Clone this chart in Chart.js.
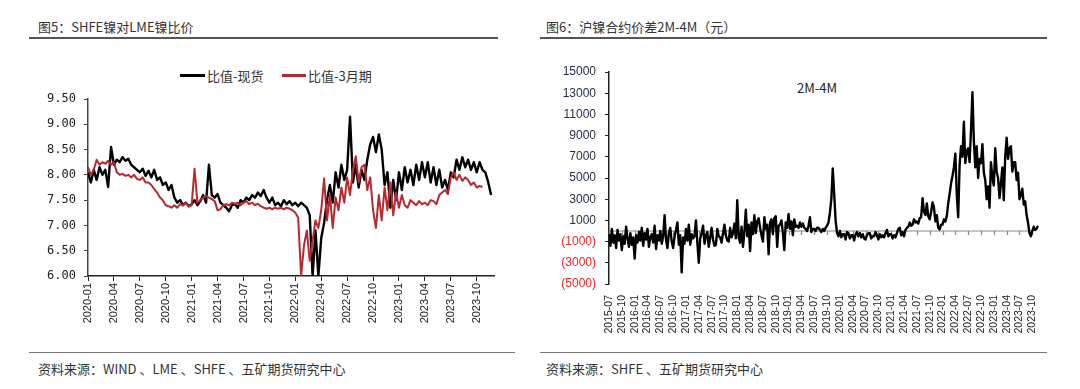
<!DOCTYPE html>
<html>
<head>
<meta charset="utf-8">
<script src="https://cdn.jsdelivr.net/npm/chart.js@4"></script>
<style>
  body { margin: 0; background: #fff; width: 1080px; height: 389px; position: relative; overflow: hidden;
         font-family: "Noto Sans CJK SC", "Liberation Sans", sans-serif; color: #333; }
  .t { position: absolute; font-size: 13px; white-space: nowrap; }
  .rule { position: absolute; height: 0; }
  .box { position: absolute; }
  .lg { position: absolute; height: 3px; }
</style>
</head>
<body>
<div class="t" style="left:38px;top:17px;">图5：SHFE镍对LME镍比价</div>
<div class="rule" style="left:29px;top:37px;width:469px;border-top:2px solid #555;"></div>
<div class="t" style="left:546px;top:17px;">图6：沪镍合约价差2M-4M（元）</div>
<div class="rule" style="left:540px;top:37px;width:507px;border-top:2px solid #555;"></div>

<div class="lg" style="left:180px;top:74px;width:25px;background:#000;"></div>
<div class="t" style="left:207px;top:66px;">比值-现货</div>
<div class="lg" style="left:282px;top:74px;width:24px;background:#b8282f;"></div>
<div class="t" style="left:308px;top:66px;">比值-3月期</div>
<div class="t" style="left:797px;top:78px;color:#222;">2M-4M</div>

<div class="box" style="left:29px;top:45px;"><canvas id="ratioChart" width="470" height="305"></canvas></div>
<div class="box" style="left:540px;top:45px;"><canvas id="spreadChart" width="508" height="305"></canvas></div>

<div class="rule" style="left:29px;top:352px;width:486px;border-top:1.5px solid #777;"></div>
<div class="t" style="left:38px;top:359px;">资料来源：WIND 、LME 、SHFE 、五矿期货研究中心</div>
<div class="rule" style="left:540px;top:352px;width:507px;border-top:1.5px solid #777;"></div>
<div class="t" style="left:546px;top:359px;">资料来源：SHFE 、五矿期货研究中心</div>

<script>
// x tick labels (quarterly)
const ratioTicks = ["2020-01","2020-04","2020-07","2020-10","2021-01","2021-04","2021-07","2021-10",
  "2022-01","2022-04","2022-07","2022-10","2023-01","2023-04","2023-07","2023-10"];
const spreadTicks = ["2015-07","2015-10","2016-01","2016-04","2016-07","2016-10","2017-01","2017-04",
  "2017-07","2017-10","2018-01","2018-04","2018-07","2018-10","2019-01","2019-04","2019-07","2019-10",
  "2020-01","2020-04","2020-07","2020-10","2021-01","2021-04","2021-07","2021-10","2022-01","2022-04",
  "2022-07","2022-10","2023-01","2023-04","2023-07","2023-10"];

// 比值-现货, 3 readings per month from 2020-01
const spotRatio = [
  8.05, 7.85, 8.10,  7.90, 8.15, 8.00,  8.10, 7.76, 8.55,  8.20, 8.30, 8.25,
  8.35, 8.28, 8.32,  8.20, 8.15, 8.10,  8.05, 8.12, 7.98,  8.08, 7.95, 8.10,
  7.90, 7.95, 7.80,  7.85, 7.70, 7.80,  7.55, 7.45, 7.50,  7.40, 7.45, 7.38,
  7.42, 7.50, 7.40,  7.48, 7.60, 7.45,  8.20, 7.60, 7.55,  7.62, 7.45, 7.40,
  7.35, 7.28, 7.40,  7.42, 7.35, 7.50,  7.45, 7.55, 7.50,  7.60, 7.55, 7.65,
  7.58, 7.70, 7.55,  7.45, 7.55, 7.40,  7.45, 7.38, 7.50,  7.42, 7.48, 7.40,
  7.45, 7.38, 7.45,  7.40, 7.35, 7.20,  6.00, 6.90, 6.00,  6.75, 7.05, 7.50,
  7.80, 7.45, 8.05,  7.75, 8.20, 7.90,  8.10, 9.15, 7.85,  8.20, 7.75, 8.10,
  7.90, 8.30, 8.60,  8.75, 8.45, 8.80,  8.50, 7.80, 8.05,  7.35, 7.90, 7.50,
  8.05, 7.70, 8.15,  7.85, 8.10, 7.80,  8.20, 7.90, 8.25,  7.95, 8.25, 7.85,
  8.15, 7.80, 8.10,  7.75, 7.90, 7.70,  8.05, 7.95, 8.30,  8.10, 8.35, 8.15,
  8.30, 8.10, 8.25,  8.05, 8.25, 8.10,  8.05, 7.85, 7.60
];
// 比值-3月期
const m3Ratio = [
  8.15, 8.00, 8.10,  8.30, 8.20, 8.25,  8.22, 8.28, 8.20,  8.25, 8.05, 8.00,
  8.02, 7.98, 8.00,  7.95, 8.00, 7.92,  7.90, 7.95, 7.85,  7.85, 7.80, 7.72,
  7.65, 7.55, 7.50,  7.40, 7.38, 7.35,  7.40, 7.35, 7.42,  7.40, 7.45, 7.38,
  7.40, 8.12, 7.45,  7.50, 7.55, 7.58,  7.55, 7.52, 7.48,  7.30, 7.32, 7.40,
  7.42, 7.40, 7.45,  7.43, 7.45, 7.40,  7.45, 7.48, 7.42,  7.45, 7.40, 7.43,
  7.38, 7.35, 7.33,  7.35, 7.32, 7.35,  7.33, 7.35, 7.32,  7.35, 7.33, 7.30,
  7.25, 7.15, 6.00,  6.60, 6.90, 6.30,  6.70, 7.10, 6.95,  7.30, 7.93, 7.10,
  7.60, 6.95, 7.55,  7.30, 7.75, 7.45,  7.95, 7.60, 8.10,  8.37, 7.85, 8.15,
  8.20, 7.70, 7.95,  7.30, 6.95, 7.60,  7.10, 7.75, 7.30,  7.85, 7.20, 7.65,
  7.35, 7.60, 7.40,  7.35, 7.50, 7.45,  7.40, 7.48, 7.42,  7.45, 7.40, 7.50,
  7.48, 7.42, 7.60,  7.65, 7.70, 7.62,  7.95, 8.05, 7.90,  8.00, 7.88, 7.95,
  7.90, 7.80, 7.85,  7.75, 7.78, 7.76
];
// 2M-4M spread, 3 readings per month from 2015-07
const spread = [
  -300, -1400, 200,  -1100, -400, -1600,  100, -900, -300,  -1800, -500, -1200,
  400, -700, -1500,  -200, -1300, -600,  -2600, -400, -1100,  -100, -900, 300,
  -1400, -200, -800,  200, -1500, -600,  -300, -1100, 500,  -1700, -400, -900,
  0, -1200, -500,  1500, -800, -1600,  -200, 300, -1000,  -1600, -500, 100,
  800, -1300, -400,  -3900, -600, -1200,  200, -900, 600,  -1300, -300, -700,
  -500, 1000, -1100,  -3000, -700, -200,  500, -1200, -400,  -100, -1500, -600,
  300, -800, -1400,  -1300, 200, -500,  -600, -1100, -200,  600, -400, -900,
  -1000, 300, -600,  -200, 700, -700,  2900, -600, -1100,  400, -1500, -100,
  2000, -500, 600,  -1900, 800, -300,  1500, -200, 900,  1200, 300, -400,
  -1000, 1300, 200,  600, -2200, 800,  1100, -300, 1200,  1400, -1500, 500,
  600, 1000, -200,  -1800, 800, 300,  1600, 200, 900,  -400, 1100, 400,
  500, 300, 800,  400, 700, 300,  200, 0, 500,  1300, -100, 200,
  200, 0, 300,  300, 100, -100,  200, 0, 300,  500, 800, 1700,
  3000, 5900, 3500,  1000, -200, -500,  0, -600, -300,  -300, -800, -100,
  -200, -700, -400,  -400, -900, -300,  -100, -500, -200,  -600, -300, -700,
  -800, -400, -200,  -200, -700, -500,  -500, -100, -400,  -800, -300, -600,
  -400, -600, -200,  100, -500, -300,  -300, -700, -400,  -600, -200, 200,
  300, -400, -100,  -500, 100, 300,  400, 800, 500,  600, 1100, 800,
  900, 700, 1200,  1300, 3100, 1800,  1500, 2600, 1400,  1100, 1800, 2700,
  2200, 900, 1500,  300, 150, 600,  600, 1100, 900,  1400, 2600, 3500,
  4500, 5200, 6000,  7300, 3500, 1300,  6200, 8000, 7000,  10300, 6400, 7500,
  7800, 6500, 9500,  13100, 8500, 6000,  8000, 5000, 6800,  6400, 8200, 5500,
  4800, 3000, 4200,  2200, 6500, 5000,  4300, 7800, 5600,  5000, 3100, 4500,
  6000, 2900, 7000,  8800, 6800, 7800,  8000, 5600, 6500,  6500, 4800, 5500,
  3000, 3400, 4000,  2500, 2800, 1500,  800, -200, -500,  0, 400, 100,
  200, 500
];

const tickFont = { family: "DejaVu Sans Mono", size: 12 };
const dateFont = { family: "Liberation Sans", size: 11 };

new Chart(document.getElementById("ratioChart"), {
  type: "line",
  data: {
    datasets: [
      {
        label: "比值-现货",
        data: spotRatio.map((v, i) => ({ x: i / 3, y: v })),
        borderColor: "#000",
        borderWidth: 2.4,
        order: 2,
      },
      {
        label: "比值-3月期",
        data: m3Ratio.map((v, i) => ({ x: i / 3, y: v })),
        borderColor: "#b8282f",
        borderWidth: 2,
        order: 1,
      },
    ],
  },
  options: {
    responsive: false,
    animation: false,
    devicePixelRatio: 1,
    elements: { point: { radius: 0 }, line: { tension: 0, borderJoinStyle: "round" } },
    layout: { padding: { top: 54, right: 5, left: 0, bottom: 0 } },
    plugins: { legend: { display: false }, tooltip: { enabled: false } },
    scales: {
      x: {
        type: "linear",
        min: 0,
        max: 47,
        afterFit: (s) => { s.height = 74; },
        border: { display: true, color: "#222", width: 1.5 },
        grid: { display: true, drawOnChartArea: false, color: "#222", tickLength: 5 },
        ticks: {
          stepSize: 3,
          includeBounds: false,
          autoSkip: false,
          maxRotation: 90,
          minRotation: 90,
          padding: 2,
          color: "#222",
          font: dateFont,
          callback: (v) => ratioTicks[Math.round(v / 3)] ?? "",
        },
      },
      y: {
        min: 6,
        max: 9.5,
        afterFit: (s) => { s.width = 59; },
        border: { display: true, color: "#444", width: 1.5 },
        grid: { display: true, drawOnChartArea: false, color: "#444", tickLength: 4 },
        ticks: {
          stepSize: 0.5,
          padding: 8,
          color: "#222",
          font: tickFont,
          callback: (v) => v.toFixed(2),
        },
      },
    },
  },
});

// zero line with quarterly tick marks
const zeroAxis = {
  id: "zeroAxis",
  beforeDatasetsDraw(chart) {
    const { ctx, scales: { x, y } } = chart;
    const y0 = y.getPixelForValue(0);
    ctx.save();
    ctx.strokeStyle = "#888";
    ctx.lineWidth = 1.2;
    ctx.beginPath();
    ctx.moveTo(x.left, y0);
    ctx.lineTo(x.getPixelForValue(99) + 1, y0);
    x.ticks.forEach((t) => {
      const px = Math.round(x.getPixelForValue(t.value)) + 0.5;
      ctx.moveTo(px, y0);
      ctx.lineTo(px, y0 + 4);
    });
    ctx.stroke();
    ctx.restore();
  },
};

new Chart(document.getElementById("spreadChart"), {
  type: "line",
  data: {
    datasets: [
      {
        label: "2M-4M",
        data: spread.map((v, i) => ({ x: i / 3, y: v })),
        borderColor: "#000",
        borderWidth: 2.4,
      },
    ],
  },
  options: {
    responsive: false,
    animation: false,
    devicePixelRatio: 1,
    elements: { point: { radius: 0 }, line: { tension: 0, borderJoinStyle: "round" } },
    layout: { padding: { top: 27, right: 7, left: 0, bottom: 0 } },
    plugins: { legend: { display: false }, tooltip: { enabled: false } },
    scales: {
      x: {
        type: "linear",
        min: 0,
        max: 100.5,
        afterFit: (s) => { s.height = 66; },
        border: { display: false },
        grid: { display: false },
        ticks: {
          stepSize: 3,
          includeBounds: false,
          autoSkip: false,
          maxRotation: 90,
          minRotation: 90,
          padding: 3,
          color: "#222",
          font: { family: "Liberation Sans", size: 10.5 },
          callback: (v) => spreadTicks[Math.round(v / 3)] ?? "",
        },
      },
      y: {
        min: -5000,
        max: 15000,
        afterFit: (s) => { s.width = 69; },
        border: { display: true, color: "#222", width: 1.5 },
        grid: { display: true, drawOnChartArea: false, color: "#222", tickLength: 4 },
        ticks: {
          stepSize: 2000,
          padding: 9,
          font: { family: "Liberation Sans", size: 12 },
          color: (c) => (c.tick && c.tick.value < 0 ? "#ff2020" : "#1f2a44"),
          callback: (v) => (v < 0 ? "(" + Math.abs(v) + ")" : String(v)),
        },
      },
    },
  },
  plugins: [zeroAxis],
});
</script>
</body>
</html>
